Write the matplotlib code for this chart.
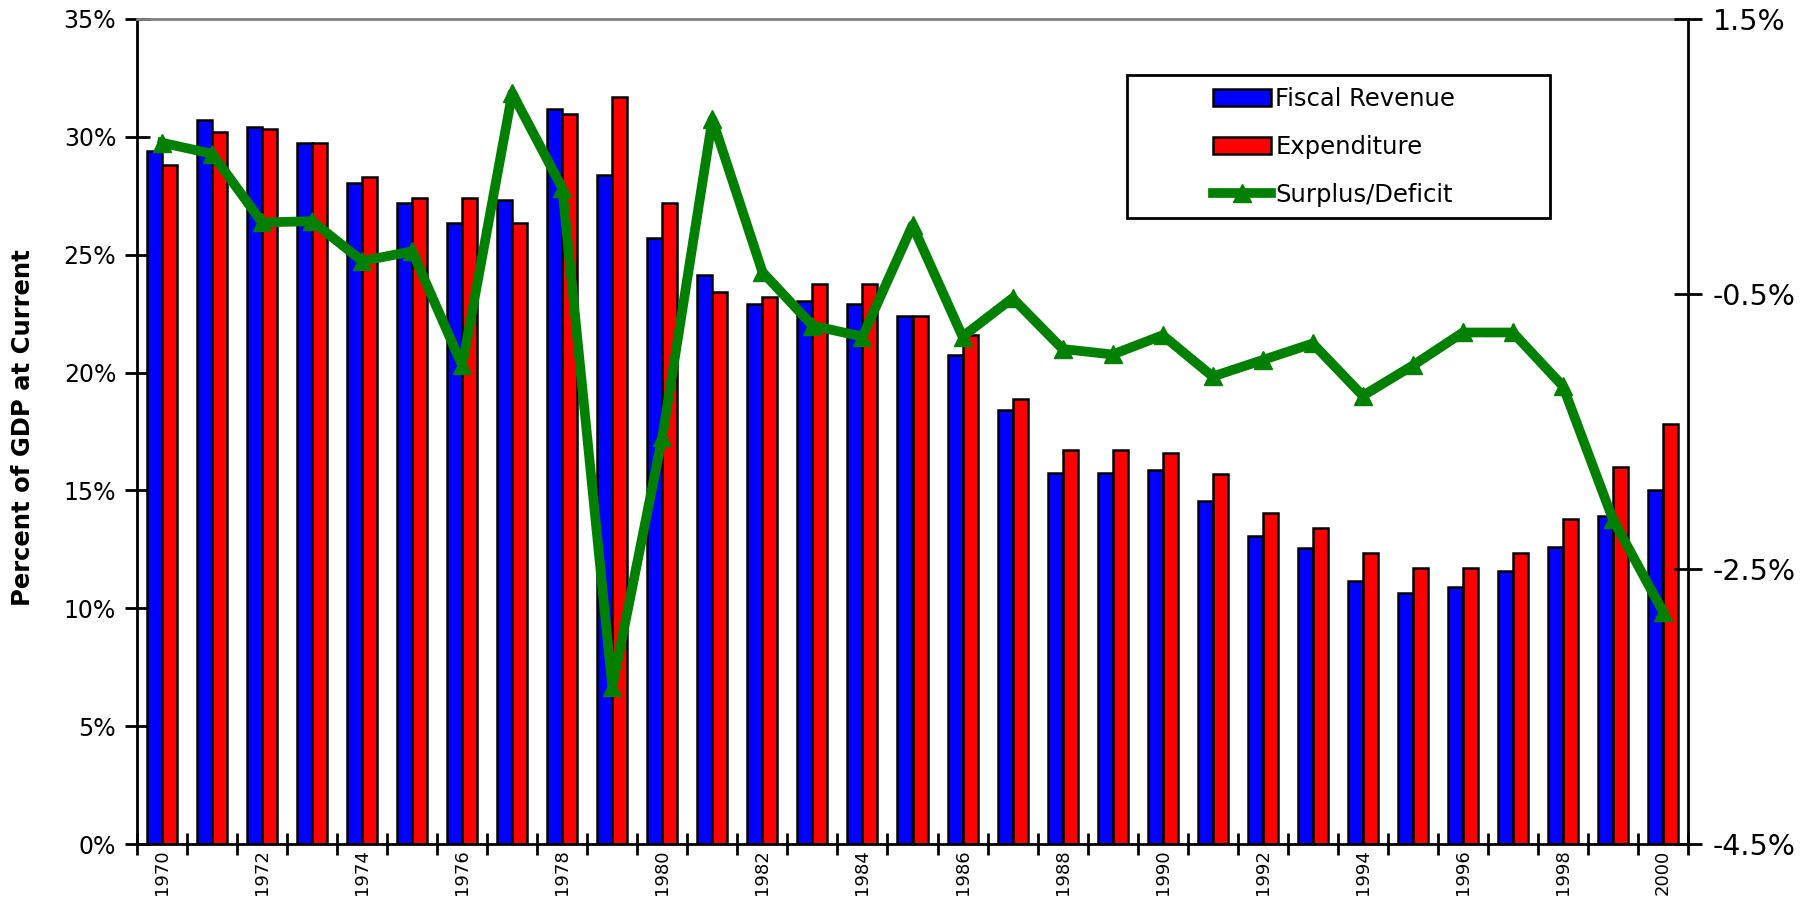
import numpy as np
import matplotlib.pyplot as plt
from matplotlib.patches import Rectangle
from matplotlib.ticker import FuncFormatter

# donnees (% du PIB)
years = list(range(1970, 2001))
revenue = [29.4, 30.7, 30.4, 29.75, 28.05, 27.2, 26.35, 27.3, 31.2, 28.4,
           25.7, 24.15, 22.9, 23.05, 22.9, 22.4, 20.75, 18.4, 15.75, 15.75,
           15.85, 14.55, 13.05, 12.55, 11.15, 10.65, 10.9, 11.6, 12.6, 13.9, 15.0]
expenditure = [28.8, 30.2, 30.35, 29.75, 28.3, 27.4, 27.4, 26.35, 30.95, 31.7,
               27.2, 23.4, 23.2, 23.75, 23.75, 22.4, 21.6, 18.9, 16.7, 16.7,
               16.6, 15.7, 14.05, 13.4, 12.35, 11.7, 11.7, 12.35, 13.8, 16.0, 17.8]
balance = [0.6, 0.52, 0.02, 0.03, -0.26, -0.19, -1.02, 0.96, 0.27, -3.36,
           -1.54, 0.77, -0.34, -0.73, -0.81, 0.0, -0.81, -0.53, -0.9, -0.94,
           -0.8, -1.1, -0.98, -0.86, -1.24, -1.02, -0.78, -0.78, -1.17, -2.14, -2.81]

left_ticks = [0, 5, 10, 15, 20, 25, 30, 35]
right_ticks = [-4.5, -2.5, -0.5, 1.5]

W, H = 1811, 899
fig = plt.figure(figsize=(W / 100, H / 100), dpi=100)
ax = fig.add_axes([137 / W, 1 - 844 / H, (1688 - 137) / W, (844 - 19) / H])

x = np.arange(len(years))
bw = 0.3
ax.bar(x - bw / 2, revenue, bw, color='#0000FF', edgecolor='black', linewidth=1.8,
       label='Fiscal Revenue', zorder=2)
ax.bar(x + bw / 2, expenditure, bw, color='#FF0000', edgecolor='black', linewidth=1.8,
       label='Expenditure', zorder=2)

ax.set_xlim(-0.5, len(years) - 0.5)
ax.set_ylim(0, 35)
ax.set_yticks(left_ticks)
ax.yaxis.set_major_formatter(FuncFormatter(lambda v, p: f"{v:.0f}%"))
ax.tick_params(axis='y', direction='inout', length=18, width=2, labelsize=17, pad=6)

# graduations x entre les annees, etiquettes une annee sur deux
ax.set_xticks(np.arange(-0.5, len(years), 1))
ax.set_xticklabels([])
ax.set_xticks(x[::2], minor=True)
ax.set_xticklabels([str(y) for y in years[::2]], minor=True, rotation=90, fontsize=13)
ax.tick_params(axis='x', which='major', direction='inout', length=16, width=2)
ax.tick_params(axis='x', which='minor', length=0, pad=4)

ax.set_ylabel('Percent of GDP at Current', fontsize=17.5, fontweight='bold')
ax.yaxis.set_label_coords(-0.066, 0.505)

for s in ['left', 'bottom']:
    ax.spines[s].set_linewidth(2)
ax.spines['top'].set_color('#808080')
ax.spines['top'].set_linewidth(2)

# axe de droite : solde budgetaire
ax2 = ax.twinx()
ax2.plot(x, balance, color='#008000', linewidth=7, marker='^', markersize=13,
         label='Surplus/Deficit', zorder=3)
ax2.set_ylim(-4.5, 1.5)
ax2.set_yticks(right_ticks)
ax2.yaxis.set_major_formatter(FuncFormatter(lambda v, p: f"{v:.1f}%"))
ax2.tick_params(axis='y', direction='inout', length=20, width=2, labelsize=20.5, pad=8)
ax2.spines['right'].set_linewidth(2)
ax2.spines['top'].set_visible(False)
ax2.spines['left'].set_visible(False)
ax2.spines['bottom'].set_visible(False)

# legende avec un cadre dessine a la main
h1, l1 = ax.get_legend_handles_labels()
h2, l2 = ax2.get_legend_handles_labels()
leg = ax2.legend(h1 + h2, l1 + l2, loc='upper left', frameon=False,
                 bbox_to_anchor=(1213 / W, 1 - 87 / H), bbox_transform=fig.transFigure,
                 fontsize=17.5, handlelength=2.4, handletextpad=0.16,
                 labelspacing=0.98, borderpad=0, borderaxespad=0)
fig.patches.append(Rectangle((1127 / W, 1 - 218 / H), (1550 - 1127) / W, (218 - 75) / H,
                             transform=fig.transFigure, fill=False,
                             edgecolor='black', linewidth=2, zorder=5))

plt.savefig("out.png", dpi=100)
